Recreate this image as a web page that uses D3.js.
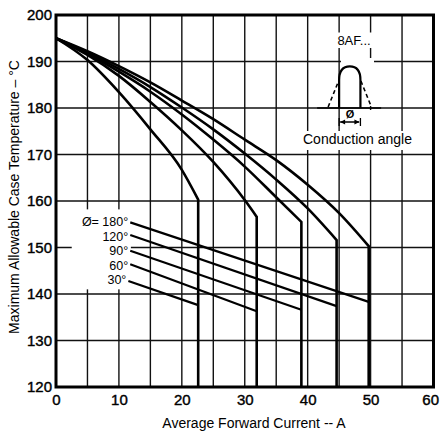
<!DOCTYPE html>
<html>
<head>
<meta charset="utf-8">
<script src="https://cdn.jsdelivr.net/npm/d3@7/dist/d3.min.js"></script>
<style>
  body { margin: 0; background: #fff; }
  svg { font-family: "Liberation Sans", Arial, Helvetica, sans-serif; }
</style>
</head>
<body>
<svg id="chart"></svg>
<script>
// conduction angles, lowest curve first
let angleLabels = ["30°", "60°", "90°", "120°", "Ø= 180°"]

// derating curves, [average forward current A, max case temp °C]
let curve30 = [[0, 195], [5, 190.3], [10, 183.4], [15, 175.4], [20, 166.7], [22.6, 160.3]]
let curve60 = [[0, 195], [5, 191.4], [10, 186.9], [15, 181.3], [20, 175.2], [25, 168.4], [30, 160.2], [31.9, 156.6]]
let curve90 = [[0, 195], [5, 191.7], [10, 187.8], [15, 183.5], [20, 178.6], [25, 173.2], [30, 167.4], [35, 160.8], [39, 155.5]]
let curve120 = [[0, 195], [5, 191.9], [10, 188.4], [15, 184.5], [20, 180.1], [25, 175.4], [30, 170.2], [35, 164.6], [40, 158.4], [44.6, 151.6]]
let curve180 = [[0, 195], [5, 192.2], [10, 189], [15, 185.5], [20, 181.6], [25, 177.6], [30, 173.2], [35, 168.8], [40, 163.5], [45, 157.4], [49.7, 150.3]]

// straight lines running from each label to its curve's drop
let lower30 = [[11.5, 142.8], [22.6, 137.6]]
let lower60 = [[11.8, 146.4], [31.9, 136.3]]
let lower90 = [[11.8, 149.3], [39, 136.6]]
let lower120 = [[11.8, 152.7], [44.6, 137.4]]
let lower180 = [[11.8, 155.4], [49.7, 138.3]]

let curves = [curve30, curve60, curve90, curve120, curve180]
let lowers = [lower30, lower60, lower90, lower120, lower180]

let xTicks = [0, 10, 20, 30, 40, 50, 60]
let yTicks = [120, 130, 140, 150, 160, 170, 180, 190, 200]
let xGrid = [5, 10, 15, 20, 25, 30, 35, 40, 45, 50, 55]
let yGrid = [130, 140, 150, 160, 170, 180, 190]

let width = 440
let height = 435

let svg = d3.select("#chart")
    .attr("width", width)
    .attr("height", height)

svg.append("rect")
    .attr("width", width)
    .attr("height", height)
    .attr("fill", "#fff")

let x = d3.scaleLinear().domain([0, 60]).range([56, 433.5])
let y = d3.scaleLinear().domain([120, 200]).range([387, 15])

// grid
svg.append("g")
    .selectAll("line")
    .data(xGrid)
    .enter()
    .append("line")
    .attr("x1", (d) => x(d))
    .attr("x2", (d) => x(d))
    .attr("y1", y(200))
    .attr("y2", y(120))
    .attr("stroke", "#111")
    .attr("stroke-width", 1.4)

svg.append("g")
    .selectAll("line")
    .data(yGrid)
    .enter()
    .append("line")
    .attr("x1", x(0))
    .attr("x2", x(60))
    .attr("y1", (d) => y(d))
    .attr("y2", (d) => y(d))
    .attr("stroke", "#111")
    .attr("stroke-width", 1.4)

// white patches where the original has labels over the grid
let masks = [
    [x(2.5), y(158.2), x(11.9) - x(2.5), y(141) - y(158.2)],
    [330, 32.5, 48, 15.5],
    [341, 58, 33, 48],
    [341, 110, 33, 21],
    [301, 131, 113, 19]
]
svg.append("g")
    .selectAll("rect")
    .data(masks)
    .enter()
    .append("rect")
    .attr("x", (d) => d[0])
    .attr("y", (d) => d[1])
    .attr("width", (d) => d[2])
    .attr("height", (d) => d[3])
    .attr("fill", "#fff")

// curves with their vertical drop to the bottom
let line = d3.line()
    .x((d) => x(d[0]))
    .y((d) => y(d[1]))
    .curve(d3.curveMonotoneX)

svg.append("g")
    .selectAll("path")
    .data(curves)
    .enter()
    .append("path")
    .attr("d", (c) => {
        let last = c[c.length - 1]
        return line(c) + "L" + x(last[0]) + "," + y(120)
    })
    .attr("fill", "none")
    .attr("stroke", "#000")
    .attr("stroke-width", 2.6)
    .attr("stroke-linejoin", "miter")

let straight = d3.line()
    .x((d) => x(d[0]))
    .y((d) => y(d[1]))

svg.append("g")
    .selectAll("path")
    .data(lowers)
    .enter()
    .append("path")
    .attr("d", (d) => straight(d))
    .attr("fill", "none")
    .attr("stroke", "#000")
    .attr("stroke-width", 2.2)

// labels stacked evenly below the top line's start, as in the original
let labelTop = y(lower180[0][1]) + 4
svg.append("g")
    .selectAll("text")
    .data(lowers)
    .enter()
    .append("text")
    .attr("x", (d) => x(d[0][0]) - 2)
    .attr("y", (d, i) => labelTop + (lowers.length - 1 - i) * 14.5)
    .attr("text-anchor", "end")
    .attr("font-size", 12.5)
    .text((d, i) => angleLabels[i])

// frame
svg.append("rect")
    .attr("x", x(0))
    .attr("y", y(200))
    .attr("width", x(60) - x(0))
    .attr("height", y(120) - y(200))
    .attr("fill", "none")
    .attr("stroke", "#000")
    .attr("stroke-width", 3)

// axes, labels only
let xAxis = svg.append("g")
    .attr("transform", "translate(0," + y(120) + ")")
    .call(d3.axisBottom(x).tickValues(xTicks).tickSize(0).tickPadding(7))
let yAxis = svg.append("g")
    .attr("transform", "translate(" + x(0) + ",0)")
    .call(d3.axisLeft(y).tickValues(yTicks).tickSize(0).tickPadding(4))

xAxis.select(".domain").remove()
yAxis.select(".domain").remove()
svg.selectAll(".tick text")
    .attr("font-family", "'Liberation Sans', Arial, sans-serif")
    .attr("font-size", 15)
    .attr("fill", "#000")
    .attr("stroke", "#000")
    .attr("stroke-width", 0.4)

// last x label sits against the page edge
xAxis.selectAll(".tick text")
    .filter((d) => d === 60)
    .attr("text-anchor", "end")
    .attr("dx", 5)

svg.append("text")
    .attr("x", 254)
    .attr("y", 428)
    .attr("text-anchor", "middle")
    .attr("font-size", 14)
    .text("Average Forward Current -- A")

svg.append("text")
    .attr("transform", "translate(19,197) rotate(-90)")
    .attr("text-anchor", "middle")
    .attr("font-size", 14)
    .text("Maximum Allowable Case Temperature – °C")

// inset: conduction angle sketch
svg.append("text")
    .attr("x", 354)
    .attr("y", 45)
    .attr("text-anchor", "middle")
    .attr("font-size", 13)
    .text("8AF...")

let inset = svg.append("g")
    .attr("transform", "translate(" + x(45) + "," + y(180) + ")")

inset.append("line")
    .attr("x1", -22).attr("x2", 42)
    .attr("y1", 0).attr("y2", 0)
    .attr("stroke", "#000")
    .attr("stroke-width", 1.6)

inset.append("path")
    .attr("d", "M0,0L0,-28C0,-37 4,-41.7 10.7,-41.7C17.4,-41.7 21.3,-37 21.3,-28L21.3,0")
    .attr("fill", "none")
    .attr("stroke", "#000")
    .attr("stroke-width", 2.2)

inset.append("path")
    .attr("d", "M-11,-1L-0.5,-27M21.8,-27L32.3,-1")
    .attr("fill", "none")
    .attr("stroke", "#000")
    .attr("stroke-width", 1.6)
    .attr("stroke-dasharray", "4,3")

inset.append("text")
    .attr("x", 11)
    .attr("y", 10)
    .attr("text-anchor", "middle")
    .attr("font-size", 11)
    .attr("font-weight", "bold")
    .text("Ø")

inset.append("path")
    .attr("d", "M0,10V18M21.3,10V18M1,14H20")
    .attr("stroke", "#000")
    .attr("stroke-width", 1.3)
inset.append("path")
    .attr("d", "M1,14L6,11.5V16.5ZM20.3,14L15.3,11.5V16.5Z")
    .attr("fill", "#000")

svg.append("text")
    .attr("x", 357.5)
    .attr("y", 143.5)
    .attr("text-anchor", "middle")
    .attr("font-size", 14)
    .text("Conduction angle")
</script>
</body>
</html>
